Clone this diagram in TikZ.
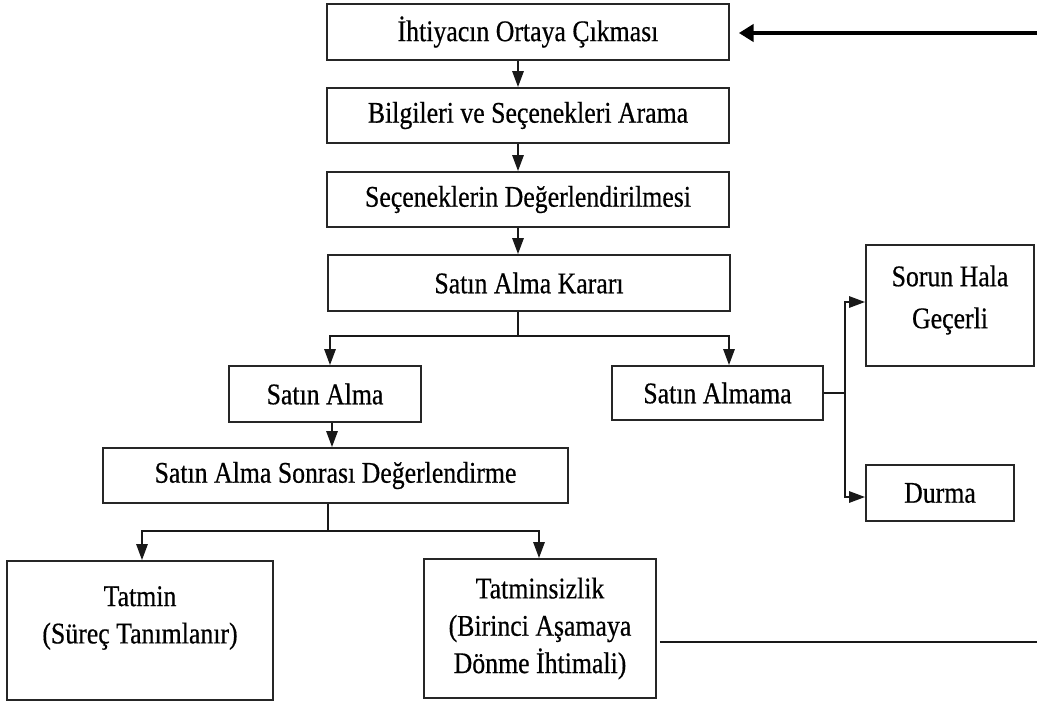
\documentclass[tikz,border=0pt]{standalone}
\usepackage{fontspec}
\setmainfont{Liberation Serif}[FakeStretch=0.86,FakeBold=0.5]
\usetikzlibrary{arrows.meta,calc}
\tikzset{
  box/.style={draw=black!85, line width=1.4pt, inner sep=0pt, align=center, font=\fontsize{22.5}{28}\selectfont},
  txt/.style={inner sep=0pt, align=center, font=\fontsize{22.5}{28}\selectfont},
  conn/.style={line width=1.4pt, draw=black!90},
  arr/.style={conn, -{Triangle[length=12pt,width=8.5pt]}},
  bigarr/.style={line width=2.4pt, -{Triangle[length=11pt,width=13pt]}}
}
\begin{document}
\begin{tikzpicture}[x=0.75pt,y=-0.75pt]
\useasboundingbox (0,0) rectangle (1037,704);
% boxes
\node[box, minimum width=301.5pt, minimum height=42pt]   (b1) at (528,32)    {İhtiyacın Ortaya Çıkması};
\node[box, minimum width=301.5pt, minimum height=41.25pt] (b2) at (528,115.5) {Bilgileri ve Seçenekleri Arama};
\node[box, minimum width=301.5pt, minimum height=41.25pt] (b3) at (528,199.5) {Seçeneklerin Değerlendirilmesi};
\node[box, minimum width=301.5pt, minimum height=42pt]   (b4) at (529,283)   {Satın Alma Kararı};
\node[box, minimum width=144pt, minimum height=42pt]     (sa) at (325,394)   {Satın Alma};
\node[box, minimum width=158.25pt, minimum height=40.5pt] (sam) at (717.5,393) {Satın Almama};
\node[box, minimum width=126pt, minimum height=90.75pt]  (sorun) at (950,305.5) {};
\node[txt, font=\fontsize{22.5}{31.5}\selectfont] (soruntext) at (950,300) {Sorun Hala\\Geçerli};
\node[box, minimum width=111pt, minimum height=42pt]     (durma) at (940,493) {Durma};
\node[box, minimum width=348.75pt, minimum height=41.25pt] (sonra) at (335.5,475.5) {Satın Alma Sonrası Değerlendirme};
\node[box, minimum width=199.5pt, minimum height=104.25pt] (tatmin) at (140,630.5) {};
\node[txt] (tatmintext) at (140,618) {Tatmin\\(Süreç Tanımlanır)};
\node[box, minimum width=174pt, minimum height=104.25pt] (tatsiz) at (540,628.5) {Tatminsizlik\\(Birinci Aşamaya\\Dönme İhtimali)};
% main chain
\coordinate (c1) at ($(b1.south)+(-10,0)$);
\draw[arr] (c1) -- (c1 |- b2.north);
\coordinate (c2) at ($(b2.south)+(-10,0)$);
\draw[arr] (c2) -- (c2 |- b3.north);
\coordinate (c3) at ($(b3.south)+(-10,0)$);
\draw[arr] (c3) -- (c3 |- b4.north);
% decision split
\coordinate (j1) at (518,336);
\draw[conn] (j1 |- b4.south) -- (j1);
\coordinate (sal) at ($(sa.north)+(5,0)$);
\coordinate (samr) at ($(sam.north)+(11.5,0)$);
\draw[arr] (j1) -| (sal);
\draw[arr] (j1) -| (samr);
% satin alma -> sonrasi
\coordinate (c4) at ($(sa.south)+(7,0)$);
\draw[arr] (c4) -- (c4 |- sonra.north);
% sonrasi split
\coordinate (j2) at (328,531);
\draw[conn] (j2 |- sonra.south) -- (j2);
\coordinate (tml) at ($(tatmin.north)+(2,0)$);
\coordinate (tsl) at ($(tatsiz.north)+(-1,0)$);
\draw[arr] (j2) -| (tml);
\draw[arr] (j2) -| (tsl);
% satin almama split
\coordinate (j3) at (845,393);
\draw[conn] (sam.east) -- (j3);
\draw[arr] (j3) |- ($(sorun.west)+(0,-3.5)$);
\draw[arr] (j3) |- ($(durma.west)+(0,4)$);
% feedback lines
\coordinate (r1) at (1037,33);
\draw[bigarr] (r1) -- ($(b1.east)+(9,1)$);
\coordinate (r2) at (1037,642);
\draw[conn] ($(tatsiz.east)+(3,13.5)$) -- (r2);
\end{tikzpicture}
\end{document}
